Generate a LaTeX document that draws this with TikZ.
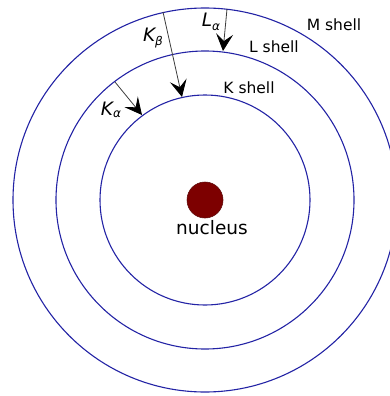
\documentclass[tikz,border=0pt]{standalone}
\usepackage{fontspec}
\setmainfont{DejaVu Sans}
\usetikzlibrary{arrows.meta}
\definecolor{shellblue}{RGB}{35,35,165}
\definecolor{nucred}{RGB}{125,0,0}
\definecolor{nucedge}{RGB}{95,10,10}
\definecolor{arrowgray}{RGB}{60,60,60}
\begin{document}
\begin{tikzpicture}[x=1pt,y=-1pt,
  shell/.style={draw=shellblue,line width=1.1pt},
  trans/.style={draw=arrowgray,line width=0.8pt,-{Stealth[length=17pt,width=17pt,inset=7pt,black]}},
  shelllabel/.style={inner sep=0pt,font=\fontsize{15.5}{18}\selectfont},
  linelabel/.style={inner sep=0pt,font=\fontsize{18.5}{20}\selectfont\itshape}]
\useasboundingbox (0,0) rectangle (390,396);
\clip (0,0) rectangle (390,396);
\coordinate (c) at (205,200);
\draw[shell] (c) circle[radius=192];
\draw[shell] (c) circle[radius=149];
\draw[shell] (c) circle[radius=105];
\node[circle,fill=nucred,draw=nucedge,line width=0.6pt,minimum size=36pt,inner sep=0pt] (nuc) at (c) {};
\node[inner sep=0pt,font=\fontsize{18.5}{20}\selectfont] (nuclabel) at (212,228) {nucleus};
\node[shelllabel] (mlab) at (334,25) {M shell};
\node[shelllabel] (llab) at (274,47) {L shell};
\node[shelllabel] (klab) at (249,88) {K shell};
% transitions
\coordinate (kbs) at (163,12);
\coordinate (kbe) at (182,97);
\coordinate (las) at (227,9);
\coordinate (lae) at (223,51);
\coordinate (kas) at (115,82);
\coordinate (kae) at (142,115);
\draw[trans] (kbs) -- (kbe);
\draw[trans] (las) -- (lae);
\draw[trans] (kas) -- (kae);
\node[linelabel] (kblab) at (153,38) {K\raisebox{-0.35ex}{\fontsize{12}{13}\selectfont β}};
\node[linelabel] (lalab) at (211,22) {L\raisebox{-0.35ex}{\fontsize{12}{13}\selectfont α}};
\node[linelabel] (kalab) at (111,110) {K\raisebox{-0.15ex}{\fontsize{12}{13}\selectfont α}};
\end{tikzpicture}
\end{document}
